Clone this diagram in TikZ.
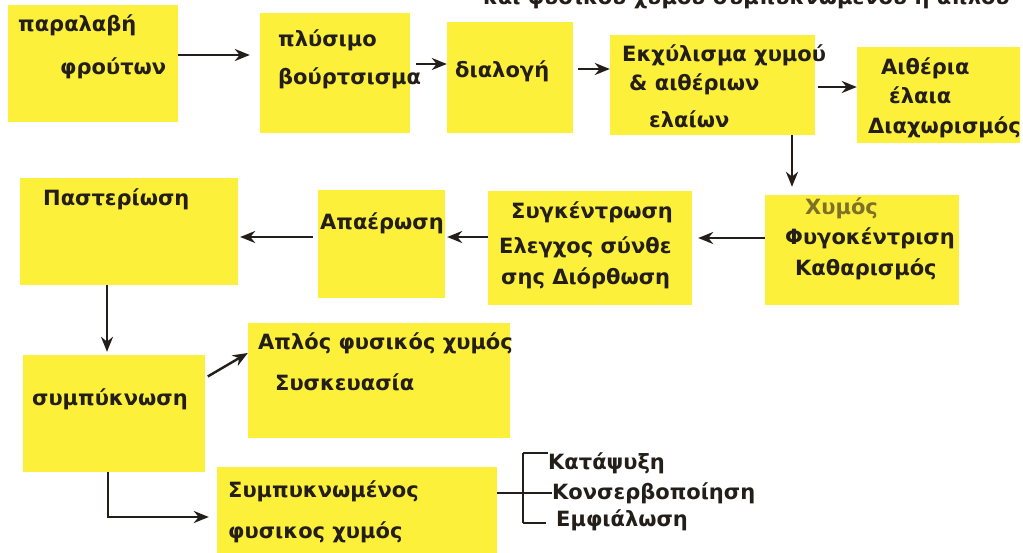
\documentclass[tikz,border=0pt]{standalone}
\usepackage{fontspec}
\setmainfont{DejaVu Sans}
\usetikzlibrary{arrows.meta}

\definecolor{postit}{RGB}{252,240,58}
\definecolor{ink}{RGB}{35,30,25}
\definecolor{faded}{RGB}{125,112,40}

\begin{document}
\begin{tikzpicture}[x=1pt,y=-1pt,
  box/.style={fill=postit,inner sep=0pt},
  txt/.style={anchor=base west,inner sep=0pt,text=ink,font=\fontsize{21}{25}\selectfont\bfseries},
  arr/.style={draw=ink,line width=2.4pt,-{Stealth[length=15pt,width=12pt]}},
  brk/.style={draw=ink,line width=2.2pt}]
\fill[white] (0,0) rectangle (1023,553);
\useasboundingbox (0,0) rectangle (1023,553);
% title line, cut at the top edge
\begin{scope}
\clip (0,0) rectangle (1023,12);
\node[txt,anchor=base east] (title) at (1010,5) {και φυσικού χυμού συμπυκνωμένου ή απλού};
\end{scope}
% first row
\node[box,minimum width=170pt,minimum height=117pt] (recv) at (93,63.5) {};
\node[box,minimum width=150pt,minimum height=120pt] (wash) at (335,73) {};
\node[box,minimum width=126pt,minimum height=111pt] (sort) at (510,77.5) {};
\node[box,minimum width=205pt,minimum height=100pt] (extr) at (712.5,85) {};
\node[box,minimum width=163pt,minimum height=96pt] (oils) at (938.5,95) {};
\node[txt] (recvA) at (18,32) {παραλαβή};
\node[txt] (recvB) at (60,75) {φρούτων};
\node[txt] (washA) at (278,47) {πλύσιμο};
\node[txt] (washB) at (278,85) {βούρτσισμα};
\node[txt] (sortA) at (455,78) {διαλογή};
\node[txt] (extrA) at (622,62) {Εκχύλισμα χυμού};
\node[txt] (extrB) at (629,91) {\& αιθέριων};
\node[txt] (extrC) at (649,128) {ελαίων};
\node[txt] (oilsA) at (881,75) {Αιθέρια};
\node[txt] (oilsB) at (889,104) {έλαια};
\node[txt] (oilsC) at (868,134) {Διαχωρισμός};
% second row
\node[box,minimum width=194pt,minimum height=110pt] (juice) at (862,250) {};
\node[box,minimum width=204pt,minimum height=114pt] (conc) at (590,248) {};
\node[box,minimum width=127pt,minimum height=108pt] (deair) at (381.5,244) {};
\node[box,minimum width=218pt,minimum height=107pt] (past) at (129,231.5) {};
\node[txt,text=faded] (juiceA) at (805,215) {Χυμός};
\node[txt] (juiceB) at (785,245) {Φυγοκέντριση};
\node[txt] (juiceC) at (795,276) {Καθαρισμός};
\node[txt] (concA) at (511,219) {Συγκέντρωση};
\node[txt] (concB) at (499,254) {Ελεγχος σύνθε};
\node[txt] (concC) at (501,285) {σης Διόρθωση};
\node[txt] (deairA) at (320,230) {Απαέρωση};
\node[txt] (pastA) at (43,206) {Παστερίωση};
% lower part
\node[box,minimum width=182pt,minimum height=117pt] (evap) at (114,413.5) {};
\node[box,minimum width=262pt,minimum height=115pt] (plain) at (379,380.5) {};
\node[box,minimum width=280pt,minimum height=86pt] (thick) at (357,510) {};
\node[txt] (evapA) at (32,405) {συμπύκνωση};
\node[txt] (plainA) at (258,350) {Απλός φυσικός χυμός};
\node[txt] (plainB) at (275,390) {Συσκευασία};
\node[txt] (thickA) at (228,497) {Συμπυκνωμένος};
\node[txt] (thickB) at (228,538) {φυσικος χυμός};
\node[txt,font=\fontsize{21}{25}\selectfont\bfseries] (froz) at (548,469) {Κατάψυξη};
\node[txt,font=\fontsize{21}{25}\selectfont\bfseries] (can) at (552,499) {Κονσερβοποίηση};
\node[txt,font=\fontsize{21}{25}\selectfont\bfseries] (bott) at (556,526) {Εμφιάλωση};
% arrows
\draw[arr,shorten >=10pt] ([yshift=8.5pt]recv.east) -- ([yshift=18pt]wash.west);
\draw[arr,shorten <=6pt] ([yshift=9pt]wash.east) -- ([yshift=13.5pt]sort.west);
\draw[arr,shorten <=5pt] ([yshift=8.5pt]sort.east) -- ([yshift=16pt]extr.west);
\draw[arr,shorten <=3pt] ([yshift=-2pt]extr.east) -- ([yshift=8pt]oils.west);
\draw[arr,shorten >=8pt] ([xshift=79.5pt]extr.south) -- ([xshift=-70pt]juice.north);
\draw[arr,shorten >=6pt] ([yshift=12pt]juice.west) -- ([yshift=10pt]conc.east);
\draw[arr,shorten >=2pt] ([yshift=11pt]conc.west) -- ([yshift=7pt]deair.east);
\draw[arr,shorten <=5pt,shorten >=2pt] ([yshift=7pt]deair.west) -- ([yshift=-5.5pt]past.east);
\draw[arr,shorten >=3pt] ([xshift=-22pt]past.south) -- ([xshift=-7pt]evap.north);
\draw[arr,shorten <=3pt] ([yshift=35.5pt]evap.east) -- ([yshift=27.5pt]plain.west);
\draw[arr,shorten >=8pt] ([xshift=-6pt]evap.south) |- ([yshift=-7pt]thick.west);
% bracket
\coordinate (btop) at (523,453);
\coordinate (bmid) at (523,493);
\coordinate (bbot) at (523,523);
\draw[brk] ([yshift=17pt]thick.east) -- (bmid);
\draw[brk] (btop) -- (bbot);
\draw[brk] (btop) -- (froz.west |- btop);
\draw[brk] (bmid) -- (can.west |- bmid);
\draw[brk] (bbot) -- ([xshift=-10pt]bott.west |- bbot);
\end{tikzpicture}
\end{document}
